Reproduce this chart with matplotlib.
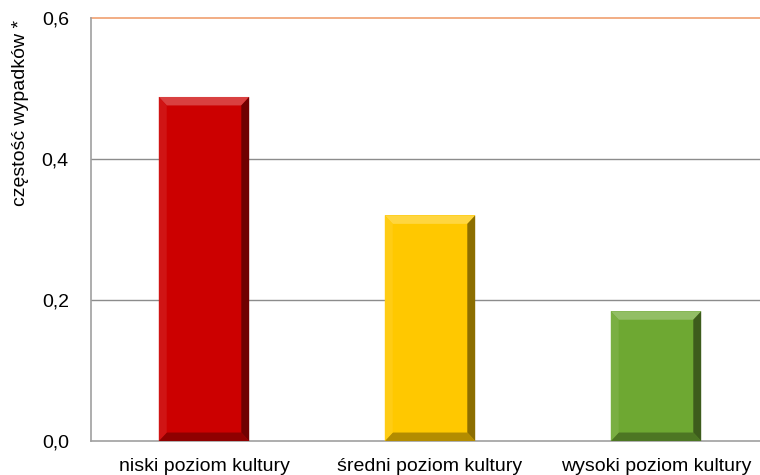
import numpy as np
import matplotlib.pyplot as plt
from matplotlib.patches import Polygon

categories = ["niski poziom kultury", "średni poziom kultury", "wysoki poziom kultury"]
values = [0.488, 0.32, 0.184]
colors = ["#CC0000", "#FFC800", "#6EA832"]
yticks = [0.0, 0.2, 0.4, 0.6]
ytick_labels = ["0,0", "0,2", "0,4", "0,6"]


def shade(c, f):
    c = np.array(plt.matplotlib.colors.to_rgb(c))
    if f > 0:
        return tuple(c + (1 - c) * f)
    return tuple(c * (1 + f))


fig = plt.figure(figsize=(7.6, 4.75), dpi=100)
ax = fig.add_axes([91 / 760, 34 / 475, 678 / 760, 423 / 475])

x = np.arange(len(categories))
w = 0.4
ax.bar(x, values, width=w, color=colors, zorder=3)

# simple bevel on each bar
bx = 0.035
by = 0.012
for xi, v, c in zip(x, values, colors):
    l, r = xi - w / 2, xi + w / 2
    top = [(l, v), (r, v), (r - bx, v - by), (l + bx, v - by)]
    bot = [(l, 0), (r, 0), (r - bx, by), (l + bx, by)]
    left = [(l, 0), (l, v), (l + bx, v - by), (l + bx, by)]
    right = [(r, 0), (r, v), (r - bx, v - by), (r - bx, by)]
    ax.add_patch(Polygon(top, closed=True, color=shade(c, 0.25), zorder=4, lw=0))
    ax.add_patch(Polygon(bot, closed=True, color=shade(c, -0.3), zorder=4, lw=0))
    ax.add_patch(Polygon(left, closed=True, color=shade(c, 0.08), zorder=4, lw=0))
    ax.add_patch(Polygon(right, closed=True, color=shade(c, -0.45), zorder=4, lw=0))

ax.set_xlim(-0.5, 2.5)
ax.set_ylim(0, 0.6)
ax.set_yticks(yticks)
ax.set_yticklabels(ytick_labels, fontsize=14, family="Liberation Sans")
ax.set_xticks(x)
ax.set_xticklabels(categories, fontsize=14, family="Liberation Sans")
ax.tick_params(axis="y", length=0, pad=16)
ax.tick_params(axis="x", length=0, pad=12)

for t in yticks[1:-1]:
    ax.axhline(t, color="#8C8C8C", lw=1, zorder=1)
ax.axhline(0.6, color="#F0A070", lw=1.2, zorder=1, clip_on=False)

for s in ["top", "right"]:
    ax.spines[s].set_visible(False)
ax.spines["left"].set_color("#A0A0A0")
ax.spines["bottom"].set_color("#A0A0A0")
ax.spines["left"].set_linewidth(1.2)
ax.spines["bottom"].set_linewidth(1.2)

fig.text(21 / 760, 1 - 113 / 475, "częstość wypadków *", rotation=90, fontsize=14,
         family="Liberation Sans", ha="center", va="center")

fig.savefig("out.png", dpi=100)
